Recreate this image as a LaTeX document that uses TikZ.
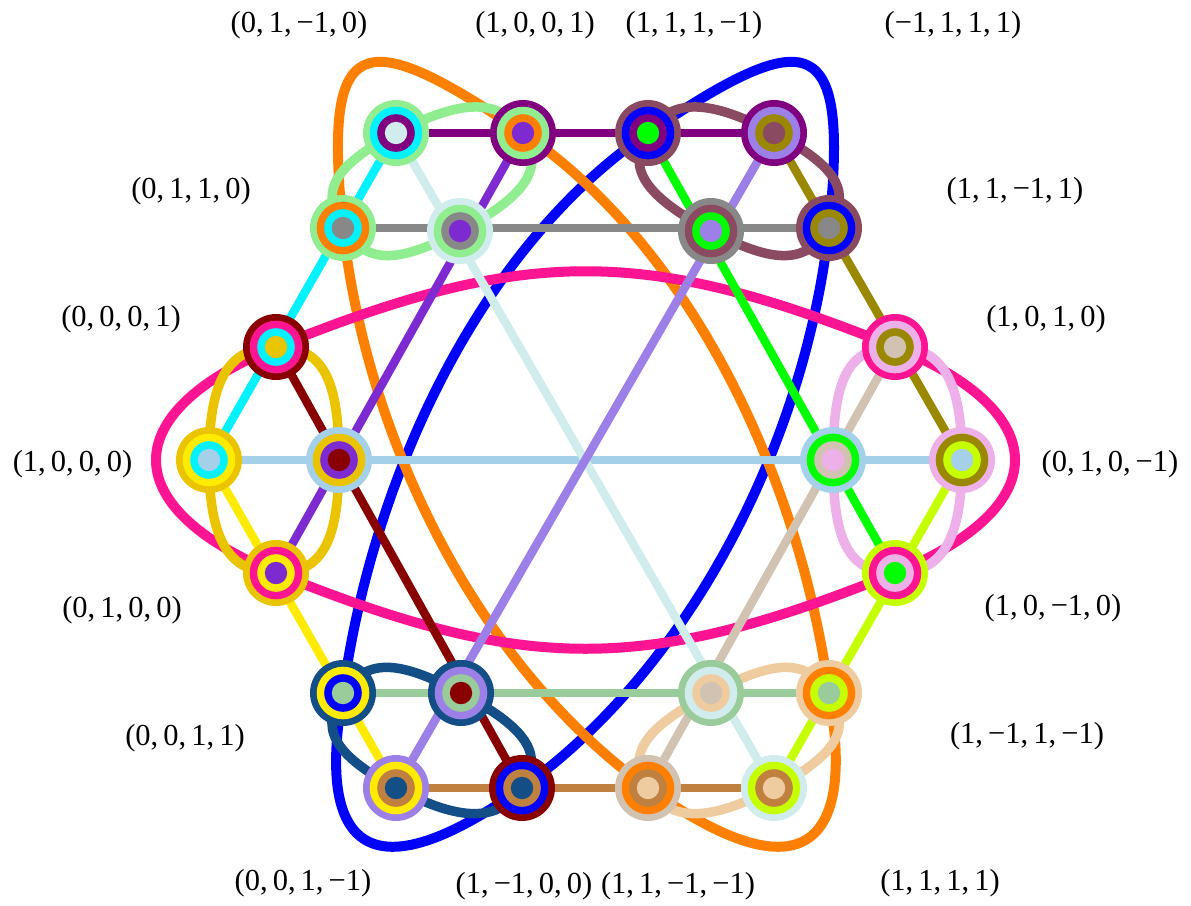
\documentclass[tikz,border=0pt]{standalone}
\usepackage{fontspec}
\setmainfont{Liberation Serif}
\usetikzlibrary{backgrounds}
\definecolor{cPurple}{HTML}{800080}
\definecolor{cLgreen}{HTML}{90EE90}
\definecolor{cCyan}{HTML}{00F2FF}
\definecolor{cPcyan}{HTML}{D1ECEC}
\definecolor{cOrange}{HTML}{FF7F00}
\definecolor{cViolet}{HTML}{7D2AD0}
\definecolor{cMauve}{HTML}{8A4A62}
\definecolor{cBlue}{HTML}{0000FF}
\definecolor{cGreen}{HTML}{00FF00}
\definecolor{cLav}{HTML}{9D7FE8}
\definecolor{cOlive}{HTML}{9A8800}
\definecolor{cGray}{HTML}{888888}
\definecolor{cDred}{HTML}{880000}
\definecolor{cPink}{HTML}{FF1493}
\definecolor{cGold}{HTML}{EBC400}
\definecolor{cYellow}{HTML}{FFEB00}
\definecolor{cLblue}{HTML}{A5D0EA}
\definecolor{cOrchid}{HTML}{EDB0E8}
\definecolor{cTan}{HTML}{D2C2B2}
\definecolor{cLime}{HTML}{C6FF00}
\definecolor{cNavy}{HTML}{134E87}
\definecolor{cPgreen}{HTML}{9ACB9A}
\definecolor{cBrown}{HTML}{C08040}
\definecolor{cWheat}{HTML}{EECC9F}
\newcommand\myvtx[6]{%
  \node[vbase,fill=#3] (#1) at (#2) {};
  \fill[#4] (#1.center) circle[radius=26.3pt];
  \fill[#5] (#1.center) circle[radius=18.8pt];
  \fill[#6] (#1.center) circle[radius=11.2pt];
}
\begin{document}
\begin{tikzpicture}[x=1pt,y=-1pt,
  vbase/.style={circle,inner sep=0pt,minimum size=66pt,draw=none},
  lab/.style={anchor=base,font=\fontsize{30.5}{36}\selectfont,inner sep=0pt},
  sline/.style={line width=8.5pt},
  bcurve/.style={line width=10pt,line join=round},
  gloop/.style={line width=9.5pt,line join=round}]
\useasboundingbox (0,0) rectangle (1191,905);

% vertices
\myvtx{T1}{396,133}{cLgreen}{cCyan}{cPurple}{cPcyan}
\myvtx{T2}{523,133}{cPurple}{cLgreen}{cOrange}{cViolet}
\myvtx{T3}{648,133}{cMauve}{cBlue}{cPurple}{cGreen}
\myvtx{T4}{774,133}{cPurple}{cLav}{cOlive}{cMauve}
\myvtx{S1}{343,228}{cLgreen}{cOrange}{cCyan}{cGray}
\myvtx{S2}{460,231}{cPcyan}{cLgreen}{cGray}{cViolet}
\myvtx{S3}{711,231}{cGray}{cMauve}{cGreen}{cLav}
\myvtx{S4}{829,228}{cMauve}{cBlue}{cOlive}{cGray}
\myvtx{L1}{276,347}{cDred}{cPink}{cCyan}{cGold}
\myvtx{L2}{209,460}{cGold}{cYellow}{cCyan}{cLblue}
\myvtx{L3}{339,460}{cLblue}{cGold}{cViolet}{cDred}
\myvtx{L4}{276,573}{cGold}{cPink}{cYellow}{cViolet}
\myvtx{R1}{895,347}{cPink}{cOrchid}{cOlive}{cTan}
\myvtx{R2}{833,460}{cLblue}{cGreen}{cTan}{cOrchid}
\myvtx{R3}{962,460}{cOrchid}{cOlive}{cLime}{cLblue}
\myvtx{R4}{895,573}{cLime}{cPink}{cOrchid}{cGreen}
\myvtx{B1}{343,693}{cNavy}{cYellow}{cBlue}{cPgreen}
\myvtx{B2}{461,693}{cNavy}{cLav}{cPgreen}{cDred}
\myvtx{B3}{711,693}{cPgreen}{cPcyan}{cWheat}{cTan}
\myvtx{B4}{829,693}{cWheat}{cOrange}{cLime}{cPgreen}
\myvtx{B5}{396,788}{cLav}{cYellow}{cBrown}{cNavy}
\myvtx{B6}{522,788}{cDred}{cBlue}{cBrown}{cNavy}
\myvtx{B7}{648,788}{cTan}{cOrange}{cBrown}{cWheat}
\myvtx{B8}{774,788}{cPcyan}{cLime}{cBrown}{cWheat}

\begin{pgfonlayer}{background}
% big curves
\draw[bcurve,cBlue] (T3.center) .. controls +(165,-112) and +(20,-195) .. (S4.center)
  .. controls +(-25,220) and +(165,-118) .. (B6.center)
  .. controls +(-140,100) and +(-30,170) .. (B1.center)
  .. controls +(30,-220) and +(-165,112) .. (T3.center);
\draw[bcurve,cOrange] (T2.center) .. controls +(165,112) and +(-30,-220) .. (B4.center)
  .. controls +(30,170) and +(140,100) .. (B7.center)
  .. controls +(-165,-118) and +(25,220) .. (S1.center)
  .. controls +(-20,-195) and +(-165,-112) .. (T2.center);
\draw[bcurve,cPink] (L1.center) .. controls +(250,-101) and +(-250,-101) .. (R1.center)
  .. controls +(160,66) and +(160,-66) .. (R4.center)
  .. controls +(-250,101) and +(250,101) .. (L4.center)
  .. controls +(-160,-66) and +(-160,66) .. (L1.center);
% loops
\draw[gloop,cLgreen] (T1.center) .. controls +(64.8,-34.2) and +(-23,-35.3) .. (T2.center)
  .. controls +(23,35.3) and +(64.8,-34.2) .. (S2.center)
  .. controls +(-64.8,34.2) and +(23,35.3) .. (S1.center)
  .. controls +(-23,-35.3) and +(-64.8,34.2) .. (T1.center);
\draw[gloop,cMauve] (T3.center) .. controls +(22.7,-35.3) and +(-65.2,-34.2) .. (T4.center)
  .. controls +(65.2,34.2) and +(22.7,-35.3) .. (S4.center)
  .. controls +(-22.7,35.3) and +(65.2,34.2) .. (S3.center)
  .. controls +(-65.2,-34.2) and +(-22.7,35.3) .. (T3.center);
\draw[gloop,cGold] (L1.center) .. controls +(46.8,0) and +(0,-81.4) .. (L3.center)
  .. controls +(0,81.4) and +(46.8,0) .. (L4.center)
  .. controls +(-46.8,0) and +(0,81.4) .. (L2.center)
  .. controls +(0,-81.4) and +(-46.8,0) .. (L1.center);
\draw[gloop,cOrchid] (R1.center) .. controls +(46.4,0) and +(0,-81.4) .. (R3.center)
  .. controls +(0,81.4) and +(46.4,0) .. (R4.center)
  .. controls +(-46.4,0) and +(0,81.4) .. (R2.center)
  .. controls +(0,-81.4) and +(-46.4,0) .. (R1.center);
\draw[gloop,cNavy] (B1.center) .. controls +(23.4,-34.2) and +(-64.4,-34.2) .. (B2.center)
  .. controls +(64.4,34.2) and +(23.4,-34.2) .. (B6.center)
  .. controls +(-23.4,34.2) and +(64.4,34.2) .. (B5.center)
  .. controls +(-64.4,-34.2) and +(-23.4,34.2) .. (B1.center);
\draw[gloop,cWheat] (B3.center) .. controls +(65.2,-34.2) and +(-22.7,-34.2) .. (B4.center)
  .. controls +(22.7,34.2) and +(65.2,-34.2) .. (B8.center)
  .. controls +(-65.2,34.2) and +(22.7,34.2) .. (B7.center)
  .. controls +(-22.7,-34.2) and +(-65.2,34.2) .. (B3.center);
% straight lines
\draw[sline,cPurple] (T1.center) -- (T4.center);
\draw[sline,cGray] (S1.center) -- (S4.center);
\draw[sline,cLblue] (L2.center) -- (R3.center);
\draw[sline,cPgreen] (B1.center) -- (B4.center);
\draw[sline,cBrown] (B5.center) -- (B8.center);
\draw[sline,cCyan] (T1.center) -- (L2.center);
\draw[sline,cPcyan] (T1.center) -- (B8.center);
\draw[sline,cViolet] (T2.center) -- (L4.center);
\draw[sline,cGreen] (T3.center) -- (R4.center);
\draw[sline,cLav] (T4.center) -- (B5.center);
\draw[sline,cOlive] (T4.center) -- (R3.center);
\draw[sline,cDred] (L1.center) -- (B6.center);
\draw[sline,cYellow] (L2.center) -- (B5.center);
\draw[sline,cTan] (R1.center) -- (B7.center);
\draw[sline,cLime] (R3.center) -- (B8.center);
\end{pgfonlayer}

% labels
\node[lab] (lT1) at (299,32.5) {(0,\,1,\,−1,\,0)};
\node[lab] (lT2) at (535,32.5) {(1,\,0,\,0,\,1)};
\node[lab] (lT3) at (694,32.5) {(1,\,1,\,1,\,−1)};
\node[lab] (lT4) at (953,32.5) {(−1,\,1,\,1,\,1)};
\node[lab] (lS1) at (191,198) {(0,\,1,\,1,\,0)};
\node[lab] (lS4) at (1015,198) {(1,\,1,\,−1,\,1)};
\node[lab] (lL1) at (121,326) {(0,\,0,\,0,\,1)};
\node[lab] (lR1) at (1046,326) {(1,\,0,\,1,\,0)};
\node[lab] (lL2) at (72.5,471) {(1,\,0,\,0,\,0)};
\node[lab] (lR3) at (1110,471) {(0,\,1,\,0,\,−1)};
\node[lab] (lL4) at (122,617) {(0,\,1,\,0,\,0)};
\node[lab] (lR4) at (1053,615) {(1,\,0,\,−1,\,0)};
\node[lab] (lB1) at (185,745) {(0,\,0,\,1,\,1)};
\node[lab] (lB4) at (1027,743) {(1,\,−1,\,1,\,−1)};
\node[lab] (lB5) at (303,890) {(0,\,0,\,1,\,−1)};
\node[lab] (lB6) at (524,893) {(1,\,−1,\,0,\,0)};
\node[lab] (lB7) at (678,893) {(1,\,1,\,−1,\,−1)};
\node[lab] (lB8) at (940,890) {(1,\,1,\,1,\,1)};
\end{tikzpicture}
\end{document}
